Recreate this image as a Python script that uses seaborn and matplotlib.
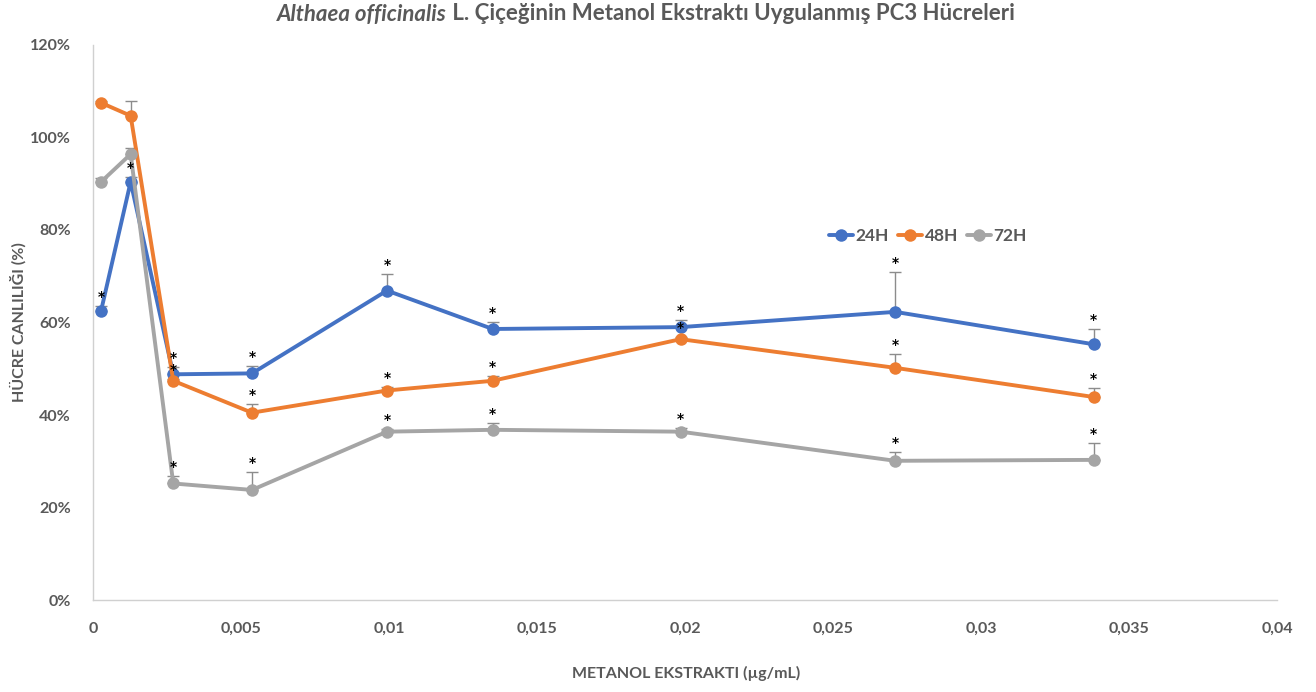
import numpy as np
import pandas as pd
import matplotlib
matplotlib.use("Agg")
import matplotlib.pyplot as plt
from matplotlib.ticker import FuncFormatter
import seaborn as sns

# ---- data ----
conc = [0.00027, 0.00127, 0.00271, 0.00537, 0.00993, 0.0135, 0.01985, 0.0271, 0.0338]
series_names = ["24H", "48H", "72H"]
v24 = [62.5, 90.4, 48.8, 49.0, 66.9, 58.6, 59.0, 62.3, 55.3]
v48 = [107.5, 104.7, 47.4, 40.5, 45.3, 47.4, 56.4, 50.2, 43.9]
v72 = [90.4, 96.4, 25.2, 23.8, 36.4, 36.8, 36.4, 30.1, 30.3]
e24 = [1.0, 1.0, 1.5, 1.7, 3.5, 1.5, 1.5, 8.6, 3.2]
e48 = [0.3, 3.2, 0.3, 1.9, 0.8, 1.1, 0.5, 3.0, 2.0]
e72 = [0.8, 1.3, 1.7, 3.9, 0.5, 1.5, 0.8, 1.9, 3.7]
s24 = [True, True, True, True, True, True, True, True, True]
s48 = [False, False, True, True, True, True, True, True, True]
s72 = [False, False, True, True, True, True, True, True, True]
y_ticks = [0, 20, 40, 60, 80, 100, 120]
x_ticks = [0, 0.005, 0.01, 0.015, 0.02, 0.025, 0.03, 0.035, 0.04]
colors = ["#4472C4", "#ED7D31", "#A5A5A5"]

values = [v24, v48, v72]
errors = [e24, e48, e72]
stars = [s24, s48, s72]

df = pd.DataFrame({
    "conc": conc * 3,
    "val": v24 + v48 + v72,
    "time": [n for n in series_names for _ in conc],
})

sns.set_theme(style="white")
plt.rcParams["font.family"] = ["Lato", "DejaVu Sans"]
txt_col = "#595959"

fig = plt.figure(figsize=(13.16, 6.92), dpi=100)
ax = fig.add_axes([0.0707, 0.1329, 0.8997, 0.8021])

# error bars (upper only)
for vals, errs in zip(values, errors):
    ax.errorbar(conc, vals, yerr=[np.zeros(len(errs)), errs], fmt="none",
                ecolor="#8c8c8c", elinewidth=1.0, capsize=4, capthick=1.0, zorder=1)

sns.lineplot(data=df, x="conc", y="val", hue="time", palette=colors,
             marker="o", markersize=9, markeredgewidth=0, linewidth=2.8,
             ax=ax, zorder=3, legend=True)

# significance asterisks
for vals, errs, st in zip(values, errors, stars):
    for xv, yv, ev, s in zip(conc, vals, errs, st):
        if s:
            ax.annotate("*", xy=(xv, yv + ev), xytext=(0, 9), textcoords="offset pixels",
                        ha="center", va="center", fontsize=10, fontweight="bold",
                        color="black", zorder=5, family="DejaVu Sans")

ax.set_xlim(0, 0.04)
ax.set_ylim(0, 120)
ax.set_xticks(x_ticks)
ax.set_yticks(y_ticks)
ax.xaxis.set_major_formatter(FuncFormatter(lambda v, p: ("%g" % round(v, 4)).replace(".", ",")))
ax.yaxis.set_major_formatter(FuncFormatter(lambda v, p: "%d%%" % v))
ax.tick_params(axis="both", length=0, labelsize=11.5, labelcolor=txt_col)
ax.tick_params(axis="x", pad=16)
ax.tick_params(axis="y", pad=16)
for lab in ax.get_xticklabels() + ax.get_yticklabels():
    lab.set_fontweight("bold")

for sp in ["top", "right"]:
    ax.spines[sp].set_visible(False)
for sp in ["left", "bottom"]:
    ax.spines[sp].set_color("#d0d0d0")
    ax.spines[sp].set_linewidth(1.0)

ax.set_xlabel("")
ax.set_ylabel("")
fig.text(686 / 1316, 1 - 673 / 692, "METANOL EKSTRAKTI (µg/mL)", fontsize=11.5,
         fontweight="bold", color=txt_col, ha="center", va="center")
fig.text(18 / 1316, 1 - 322 / 692, "HÜCRE CANLILIĞI (%)", fontsize=11.5, rotation=90,
         fontweight="bold", color=txt_col, ha="center", va="center")

leg = ax.legend(loc="center", bbox_to_anchor=(0.705, 0.656), ncol=3, frameon=False,
                handlelength=1.4, handletextpad=0.15, columnspacing=0.5,
                prop={"size": 12.5, "weight": "bold"})
for t in leg.get_texts():
    t.set_color(txt_col)

# title with italic species name
t1 = fig.text(0, 1 - 14 / 692, "Althaea officinalis", fontsize=16, fontweight="bold",
              fontstyle="italic", color=txt_col, ha="left", va="center")
t2 = fig.text(0, 1 - 14 / 692, " L. Çiçeğinin Metanol Ekstraktı Uygulanmış PC3 Hücreleri",
              fontsize=16, fontweight="bold", color=txt_col, ha="left", va="center")
fig.canvas.draw()
r = fig.canvas.get_renderer()
w1 = t1.get_window_extent(r).width / fig.bbox.width
w2 = t2.get_window_extent(r).width / fig.bbox.width
cx = 646 / 1316
start = cx - (w1 + w2) / 2
t1.set_x(start)
t2.set_x(start + w1)

fig.savefig("out.png", dpi=100)
